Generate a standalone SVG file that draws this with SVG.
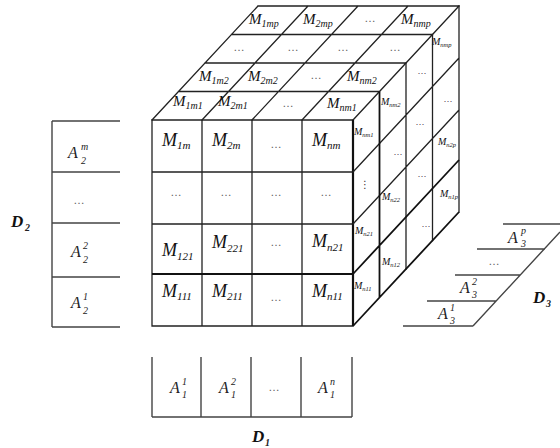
<svg xmlns="http://www.w3.org/2000/svg" width="560" height="448" viewBox="0 0 560 448">
<style>
.ln{stroke:#222;stroke-width:1.3;fill:none;stroke-linecap:square}
.tk{stroke:#111;stroke-width:2.2;fill:none}
.md{stroke:#111;stroke-width:1.8;fill:none}
.ax{stroke:#444;stroke-width:1.4;fill:none}
.m{font-family:"Liberation Serif","DejaVu Serif",serif;font-style:italic;fill:#111}
.f{font-size:18px}
.t{font-size:15px}
.sd{font-size:10px}
.a{font-family:"Liberation Serif","DejaVu Serif",serif;font-style:italic;fill:#222;font-size:16px}
.sc{font-family:"Liberation Serif","DejaVu Serif",serif;font-style:italic;fill:#222;font-size:10px}
.dl{font-family:"Liberation Serif","DejaVu Serif",serif;font-style:italic;font-weight:bold;fill:#111;font-size:17px}
.dots{font-family:"DejaVu Sans",sans-serif;font-size:11px;fill:#666;text-anchor:middle}
.sdots{font-family:"DejaVu Sans",sans-serif;font-size:9px;fill:#555;text-anchor:middle}
</style>
<rect width="560" height="448" fill="#fff"/>
<g id="connectors"></g>

<g id="cube-top">
<path class="ln" d="M178.5,91.5 H379.5 M205,63 H406 M231.5,34.5 H432.5 M258,6 H459 M152,120 L258,6 M202,120 L308,6 M252,120 L358,6 M302,120 L408,6 M353,120 L459,6"/>
<text class="m t" x="173" y="106">M<tspan font-size="10" dy="3">1m1</tspan></text>
<text class="m t" x="218" y="106">M<tspan font-size="10" dy="3">2m1</tspan></text>
<text class="dots" x="288" y="107">…</text>
<text class="m t" x="327" y="108">M<tspan font-size="10" dy="3">nm1</tspan></text>
<text class="m t" x="199" y="81">M<tspan font-size="10" dy="3">1m2</tspan></text>
<text class="m t" x="248" y="81">M<tspan font-size="10" dy="3">2m2</tspan></text>
<text class="dots" x="316" y="79">…</text>
<text class="m t" x="347" y="81">M<tspan font-size="10" dy="3">nm2</tspan></text>
<text class="dots" x="239" y="51">…</text>
<text class="dots" x="293" y="51">…</text>
<text class="dots" x="343" y="51">…</text>
<text class="dots" x="395" y="51">…</text>
<text class="m t" x="249" y="24">M<tspan font-size="10" dy="3">1mp</tspan></text>
<text class="m t" x="303" y="24">M<tspan font-size="10" dy="3">2mp</tspan></text>
<text class="dots" x="370" y="22">…</text>
<text class="m t" x="401" y="24">M<tspan font-size="10" dy="3">nmp</tspan></text>
</g>

<g id="cube-front">
<path class="ln" d="M152,120 H353 M152,326 H353 M152,120 V326 M202,120 V326 M252,120 V326 M302,120 V326 M152,172 H353 M152,224 H353"/>
<path class="tk" d="M152,274 H353 M353,120 V326"/>
<text class="m f" x="162" y="146">M<tspan font-size="11" dy="3">1m</tspan></text>
<text class="m f" x="212" y="146">M<tspan font-size="11" dy="3">2m</tspan></text>
<text class="dots" x="276" y="148">…</text>
<text class="m f" x="312" y="146">M<tspan font-size="11" dy="3">nm</tspan></text>
<text class="dots" x="176" y="196">…</text>
<text class="dots" x="226" y="196">…</text>
<text class="dots" x="276" y="196">…</text>
<text class="dots" x="326" y="196">…</text>
<text class="m f" x="162" y="256">M<tspan font-size="11" dy="4">121</tspan></text>
<text class="m f" x="212" y="248">M<tspan font-size="11" dy="4">221</tspan></text>
<text class="dots" x="276" y="246">…</text>
<text class="m f" x="312" y="247">M<tspan font-size="11" dy="4">n21</tspan></text>
<text class="m f" x="162" y="297">M<tspan font-size="11" dy="3">111</tspan></text>
<text class="m f" x="212" y="297">M<tspan font-size="11" dy="3">211</tspan></text>
<text class="dots" x="276" y="301">…</text>
<text class="m f" x="312" y="297">M<tspan font-size="11" dy="3">n11</tspan></text>
</g>

<g id="cube-side">
<path class="ln" d="M353,172 L459,58 M353,224 L459,110 M406,63 V269 M432.5,34.5 V240.5 M459,6 V212"/>
<path class="md" d="M353,274 L459,160 M353,326 L459,212 M379.5,91.5 V297.5"/>
<text class="m sd" x="354" y="135">M<tspan font-size="6.5" dy="2">nm1</tspan></text>
<text x="365" y="188" font-family="DejaVu Sans,sans-serif" font-size="10" fill="#333" text-anchor="middle">⋮</text>
<text class="m sd" x="355" y="234">M<tspan font-size="6.5" dy="2">n21</tspan></text>
<text class="m sd" x="354" y="289">M<tspan font-size="6.5" dy="2">n11</tspan></text>
<text class="m sd" x="381" y="105">M<tspan font-size="6.5" dy="2">nm2</tspan></text>
<text class="sdots" x="398" y="155">…</text>
<text class="m sd" x="382" y="200">M<tspan font-size="6.5" dy="2">n22</tspan></text>
<text class="m sd" x="382" y="265">M<tspan font-size="6.5" dy="2">n12</tspan></text>
<text class="sdots" x="422" y="74">…</text>
<text class="sdots" x="420" y="125">…</text>
<text class="sdots" x="422" y="177">…</text>
<text class="sdots" x="426" y="227">…</text>
<text class="m sd" x="432" y="45">M<tspan font-size="6.5" dy="2">nmp</tspan></text>
<text class="sdots" x="448" y="102">…</text>
<text class="m sd" x="438" y="145">M<tspan font-size="6.5" dy="2">n2p</tspan></text>
<text class="m sd" x="440" y="197">M<tspan font-size="6.5" dy="2">n1p</tspan></text>
</g>

<g id="axis-d2">
<path class="ax" d="M52,121 V327 M52,121 H120 M52,172 H120 M52,223 H120 M52,277 H120 M52,327 H120"/>
<text class="a" x="68" y="158">A</text><text class="sc" x="81" y="150">m</text><text class="sc" x="81" y="164">2</text>
<text class="dots" x="79" y="204">…</text>
<text class="a" x="71" y="257">A</text><text class="sc" x="83" y="249">2</text><text class="sc" x="83" y="263">2</text>
<text class="a" x="71" y="308">A</text><text class="sc" x="83" y="300">1</text><text class="sc" x="83" y="314">2</text>
<text class="dl" x="11" y="227">D</text><text class="sc" x="25" y="231" font-weight="bold">2</text>
</g>

<g id="axis-d1">
<path class="ax" d="M152,357 V417 M201,357 V417 M251,357 V417 M301,357 V417 M352,357 V417 M152,417 H352"/>
<text class="a" x="170" y="393">A</text><text class="sc" x="182" y="385">1</text><text class="sc" x="182" y="398">1</text>
<text class="a" x="219" y="393">A</text><text class="sc" x="231" y="385">2</text><text class="sc" x="231" y="398">1</text>
<text class="dots" x="274" y="391">…</text>
<text class="a" x="318" y="393">A</text><text class="sc" x="330" y="385">n</text><text class="sc" x="330" y="398">1</text>
<text class="dl" x="252" y="442">D</text><text class="sc" x="265" y="446" font-weight="bold">1</text>
</g>

<g id="axis-d3">
<path class="ax" d="M403,326 H473 M427,301 H496 M455,275 H520 M477,249 H545 M503,224 H560 M473,326 L560,232"/>
<text class="a" x="508" y="243">A</text><text class="sc" x="521" y="234">p</text><text class="sc" x="521" y="247">3</text>
<text class="dots" x="494" y="265">…</text>
<text class="a" x="460" y="293">A</text><text class="sc" x="472" y="285">2</text><text class="sc" x="472" y="298">3</text>
<text class="a" x="438" y="319">A</text><text class="sc" x="450" y="311">1</text><text class="sc" x="450" y="324">3</text>
<text class="dl" x="533" y="303">D</text><text class="sc" x="546" y="307" font-weight="bold">3</text>
</g>
</svg>
